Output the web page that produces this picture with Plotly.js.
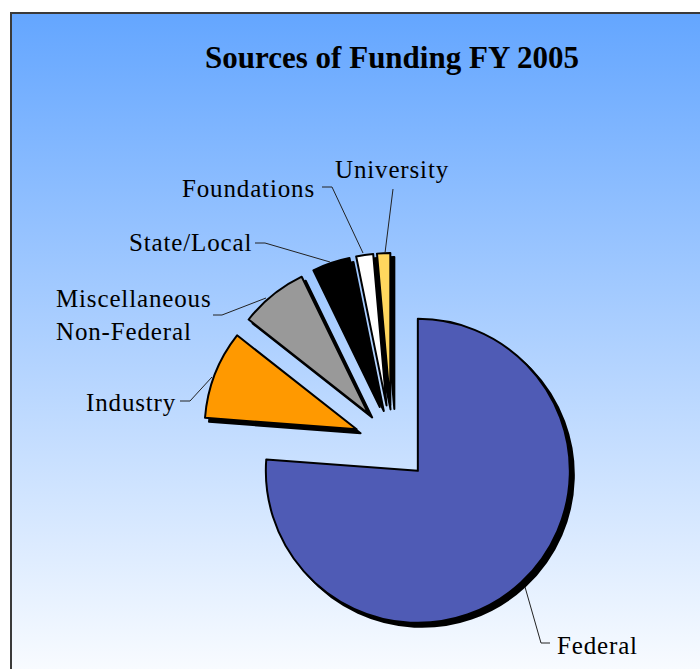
<!DOCTYPE html>
<html><head><meta charset="utf-8">
<script src="https://cdn.plot.ly/plotly-3.0.1.min.js"></script>
<style>
html,body{margin:0;padding:0;width:700px;height:669px;overflow:hidden;background:#fff;}
#bg{position:absolute;left:10px;top:12px;width:690px;height:657px;border-top:2px solid #3a3a3a;border-left:2px solid #3a3a3a;box-sizing:border-box;background:linear-gradient(to bottom,#64a6ff 0%,#f8fbff 100%);}
#chart{position:absolute;left:0;top:0;width:700px;height:669px;}
</style></head><body>
<div id="bg"></div><div id="chart"></div>
<script>
// ---- data ----
const categories = ["Federal", "Industry", "Miscellaneous Non-Federal", "State/Local", "Foundations", "University"];
const shares = [76.2, 9.4, 7.2, 4.0, 1.8, 1.4];
const sliceColors = ["#4f5bb5", "#ff9900", "#999999", "#000000", "#ffffff", "#ffd75e"];
const labelLines = [["Federal"], ["Industry"], ["Miscellaneous", "Non-Federal"], ["State/Local"], ["Foundations"], ["University"]];

// ---- layout helpers (pixel -> paper) ----
const W = 700, H = 669;
const px = x => x / W;
const py = y => 1 - y / H;
const PULL = 0.25, R = 152;
function domainFor(cx, cy) {
  const half = R * (1 + PULL);
  return { x: [px(cx - half), px(cx + half)], y: [py(cy + half), py(cy - half)] };
}

const shadow = {
  type: "pie", values: shares, labels: categories, sort: false,
  direction: "clockwise", rotation: 0, pull: shares.map(() => PULL),
  marker: { colors: shares.map(() => "#000000"), line: { color: "#000000", width: 2 } },
  textinfo: "none", hoverinfo: "skip", showlegend: false,
  domain: domainFor(396, 447)
};
const main = {
  type: "pie", values: shares, labels: categories, sort: false,
  direction: "clockwise", rotation: 0, pull: shares.map(() => PULL),
  marker: { colors: sliceColors, line: { color: "#000000", width: 2 } },
  textinfo: "none", hoverinfo: "label+percent", showlegend: false,
  domain: domainFor(392, 443)
};

const lblFont = { family: "Liberation Serif, Times New Roman, serif", size: 25, color: "#000" };
const labelPos = [
  { x: 555, y: 645, xa: "left" },
  { x: 178, y: 402, xa: "right" },
  { x: 54,  y: 315, xa: "left" },
  { x: 254, y: 243, xa: "right" },
  { x: 317, y: 189, xa: "right" },
  { x: 392, y: 169, xa: "center" }
];
const spaced = s => '<span style="letter-spacing:0.85px">' + s + '</span>';
const annotations = labelLines.map((lines, i) => ({
  text: lines.map(spaced).join("<br>"), xref: "paper", yref: "paper",
  x: px(labelPos[i].x), y: py(labelPos[i].y),
  xanchor: labelPos[i].xa, yanchor: "middle", align: "left", showarrow: false, font: lblFont
}));

const leaders = [
  [[550,643],[541,643],[525,587]],
  [[180,401],[190,401],[212,377]],
  [[213,315],[222,315],[266,298]],
  [[255,243],[265,243],[330,262]],
  [[322,187],[332,187],[363,253]],
  [[393,189],[385,253]]
];
const shapes = leaders.map(pts => ({
  type: "path", xref: "paper", yref: "paper",
  path: pts.map((p, i) => (i ? "L" : "M") + px(p[0]) + "," + py(p[1])).join(" "),
  line: { color: "#222", width: 1 }
}));

const layout = {
  width: W, height: H, margin: { l: 0, r: 0, t: 0, b: 0 },
  paper_bgcolor: "rgba(0,0,0,0)", plot_bgcolor: "rgba(0,0,0,0)",
  title: { text: "<b>Sources of Funding FY 2005</b>", x: px(392), xanchor: "center",
           y: py(57), yanchor: "middle", yref: "container",
           font: { family: "Liberation Serif, Times New Roman, serif", size: 31, color: "#000" } },
  annotations: annotations, shapes: shapes, showlegend: false
};
Plotly.newPlot("chart", [shadow, main], layout, { displayModeBar: false, staticPlot: true });
</script></body></html>
